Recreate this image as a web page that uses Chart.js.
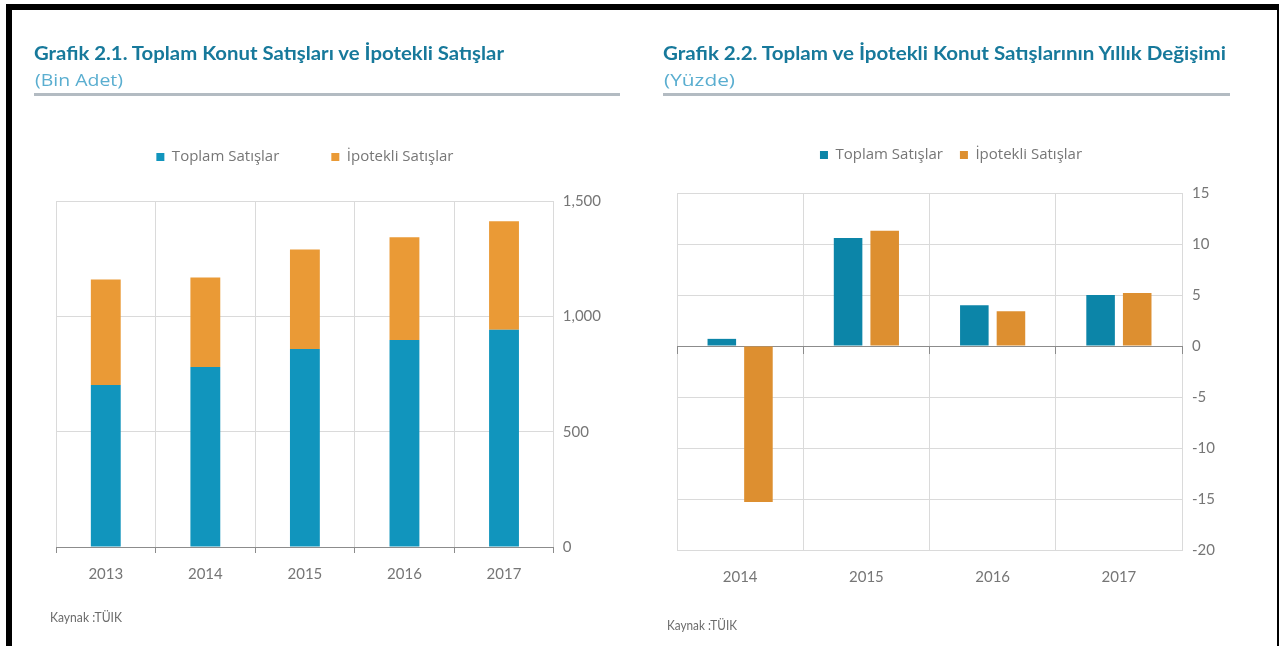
<!DOCTYPE html>
<html><head><meta charset="utf-8">
<script src="https://cdn.jsdelivr.net/npm/chart.js@4"></script>
<style>
html,body{margin:0;padding:0;background:#fff;width:1279px;height:646px;overflow:hidden;}
body{position:relative;font-family:Lato,'Open Sans',sans-serif;}
.blk{position:absolute;background:#000;}
canvas{position:absolute;}
svg{position:absolute;left:0;top:0;}
</style>
</head>
<body>
<div class="blk" style="left:6px;top:4px;width:1273px;height:6px"></div>
<div class="blk" style="left:6px;top:4px;width:6px;height:642px"></div>
<div class="blk" style="left:1277px;top:4px;width:2px;height:642px"></div>

<canvas id="c1" width="600" height="540" style="left:20px;top:80px"></canvas>
<canvas id="c2" width="620" height="520" style="left:640px;top:100px"></canvas>

<svg width="1279" height="646">
  <text x="34" y="60" font-family="Lato" font-weight="700" font-size="19" fill="#17799b" textLength="470" lengthAdjust="spacingAndGlyphs">Grafik 2.1. Toplam Konut Satışları ve İpotekli Satışlar</text>
  <text x="35" y="86" font-family="Open Sans" font-size="16" fill="#5aaed0" textLength="88" lengthAdjust="spacingAndGlyphs">(Bin Adet)</text>
  <rect x="34" y="93" width="586" height="3" fill="#b3bbc2"/>
  <text x="663" y="60" font-family="Lato" font-weight="700" font-size="19" fill="#17799b" textLength="563" lengthAdjust="spacingAndGlyphs">Grafik 2.2. Toplam ve İpotekli Konut Satışlarının Yıllık Değişimi</text>
  <text x="664" y="86" font-family="Open Sans" font-size="16" fill="#5aaed0" textLength="71" lengthAdjust="spacingAndGlyphs">(Yüzde)</text>
  <rect x="663" y="93" width="567" height="3" fill="#b3bbc2"/>
  <text x="50" y="622" font-family="Lato" font-size="14" fill="#6b6b6b" textLength="72" lengthAdjust="spacingAndGlyphs">Kaynak :TÜIK</text>
  <text x="667" y="630" font-family="Lato" font-size="14" fill="#6b6b6b" textLength="70" lengthAdjust="spacingAndGlyphs">Kaynak :TÜIK</text>
</svg>

<script>
// ---- data ----
const years1 = ['2013', '2014', '2015', '2016', '2017'];
const toplam1 = [702, 780, 858, 897, 942];
const ipotekli1 = [458, 388, 432, 446, 470];
const yTicks1 = [0, 500, 1000, 1500];

const years2 = ['2014', '2015', '2016', '2017'];
const toplam2 = [0.7, 10.6, 4.0, 5.0];
const ipotekli2 = [-15.3, 11.3, 3.4, 5.2];
const yTicks2 = [-20, -15, -10, -5, 0, 5, 10, 15];

const seriesNames = ['Toplam Satışlar', 'İpotekli Satışlar'];

// ---- style ----
const gridCol = '#dadada', axisDark = '#8c8c8c', txt = '#767676';
Chart.defaults.font.family = "Lato, 'Open Sans', sans-serif";
Chart.defaults.color = txt;
Chart.defaults.animation = false;

const spacer = (h) => ({display: true, text: '', weight: 0, position: 'top', fullSize: false,
  padding: 0, font: {size: h, lineHeight: 1}});
const legendFont = {family: "'Open Sans', Lato, sans-serif", size: 15};

new Chart(document.getElementById('c1'), {
  type: 'bar',
  data: {
    labels: years1,
    datasets: [
      {label: seriesNames[0], data: toplam1, backgroundColor: '#1195bd', categoryPercentage: 1, barPercentage: 0.3},
      {label: seriesNames[1], data: ipotekli1, backgroundColor: '#ea9a36', categoryPercentage: 1, barPercentage: 0.3}
    ]
  },
  options: {
    responsive: false, maintainAspectRatio: false,
    layout: {padding: {left: 36, right: 10, top: 17.5, bottom: 25}},
    plugins: {
      legend: {position: 'top', fullSize: false,
        labels: {boxWidth: 8, boxHeight: 8, padding: 52, font: legendFont, color: txt}},
      title: spacer(26.5),
      tooltip: {enabled: false}
    },
    scales: {
      x: {stacked: true, offset: true,
        grid: {offset: true, color: gridCol, tickColor: axisDark, tickLength: 6},
        border: {color: axisDark},
        ticks: {padding: 12, font: {size: 15}, color: txt}},
      y: {stacked: true, position: 'right', min: yTicks1[0], max: yTicks1[yTicks1.length - 1],
        afterBuildTicks: s => { s.ticks = yTicks1.map(v => ({value: v})); },
        ticks: {padding: 9, font: {size: 15}, color: txt, callback: v => v.toLocaleString('en-US')},
        grid: {color: c => (c.tick && c.tick.value === 0) ? axisDark : gridCol, drawTicks: false},
        border: {display: false}}
    }
  }
});

new Chart(document.getElementById('c2'), {
  type: 'bar',
  data: {
    labels: years2,
    datasets: [
      {label: seriesNames[0], data: toplam2, backgroundColor: '#0c85a8', categoryPercentage: 0.58, barPercentage: 0.78},
      {label: seriesNames[1], data: ipotekli2, backgroundColor: '#dd8f30', categoryPercentage: 0.58, barPercentage: 0.78}
    ]
  },
  options: {
    responsive: false, maintainAspectRatio: false,
    layout: {padding: {left: 37, right: 35, top: 30.5, bottom: 16}},
    plugins: {
      legend: {position: 'top', fullSize: true,
        labels: {boxWidth: 8, boxHeight: 8, padding: 17, font: legendFont, color: txt}},
      title: spacer(20.5),
      tooltip: {enabled: false}
    },
    scales: {
      x: {offset: true,
        grid: {offset: true, color: gridCol, drawTicks: false},
        border: {color: gridCol},
        ticks: {padding: 18, font: {size: 15}, color: txt}},
      x2: {type: 'category', position: {y: 0}, offset: true,
        grid: {offset: true, drawOnChartArea: false, tickLength: 7, tickColor: axisDark},
        border: {color: axisDark},
        ticks: {display: false}},
      y: {position: 'right', min: yTicks2[0], max: yTicks2[yTicks2.length - 1],
        afterBuildTicks: s => { s.ticks = yTicks2.map(v => ({value: v})); },
        ticks: {padding: 10, font: {size: 15}, color: txt},
        grid: {color: c => (c.tick && c.tick.value === 0) ? axisDark : gridCol, drawTicks: false},
        border: {display: false}}
    }
  }
});
</script>
</body></html>
